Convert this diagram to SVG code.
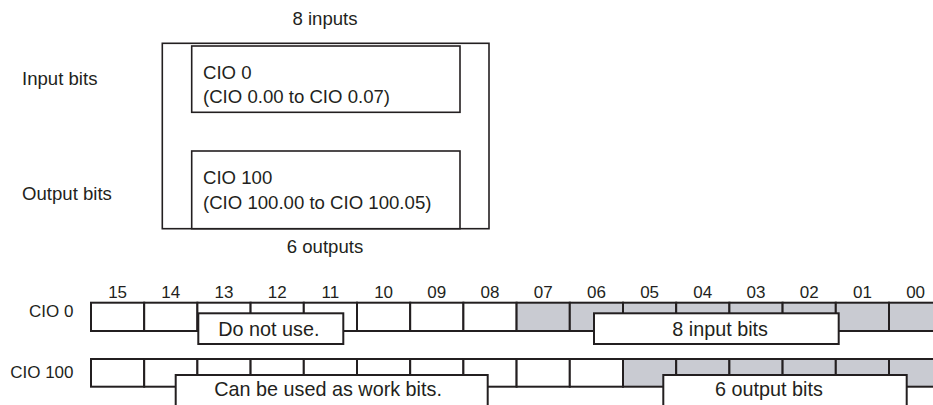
<svg xmlns="http://www.w3.org/2000/svg" width="933" height="405" viewBox="0 0 933 405">
<style>
text{font-family:"Liberation Sans",Arial,sans-serif;fill:#231f20}
.t{font-size:18.6px}
.n{font-size:17px}
.l{font-size:19.8px}
.box{fill:#fff;stroke:#231f20;stroke-width:1.6}
.cw{fill:#fff;stroke:#231f20;stroke-width:2}
.cg{fill:#c9cbd2;stroke:#231f20;stroke-width:2}
</style>
<rect width="933" height="405" fill="#fff"/>
<g id="top-labels">
<text class="t" x="325" y="25" text-anchor="middle">8 inputs</text>
<text class="t" x="22" y="85">Input bits</text>
<text class="t" x="22" y="200">Output bits</text>
<text class="t" x="325" y="253" text-anchor="middle">6 outputs</text>
</g>
<g id="unit">
<rect class="box" x="162.3" y="43.3" width="326.7" height="185.4"/>
</g>
<g id="cio0-area">
<rect class="box" x="191.7" y="46" width="268.3" height="66.3"/>
<text class="t" x="203" y="79">CIO 0</text>
<text class="t" x="203" y="103">(CIO 0.00 to CIO 0.07)</text>
</g>
<g id="cio100-area">
<rect class="box" x="191.7" y="151" width="268.3" height="77.7"/>
<text class="t" x="203" y="184">CIO 100</text>
<text class="t" x="203" y="209">(CIO 100.00 to CIO 100.05)</text>
</g>
<g id="bit-numbers" class="n">
<text class="n" x="117.6" y="297.5" text-anchor="middle">15</text>
<text class="n" x="170.8" y="297.5" text-anchor="middle">14</text>
<text class="n" x="224" y="297.5" text-anchor="middle">13</text>
<text class="n" x="277.2" y="297.5" text-anchor="middle">12</text>
<text class="n" x="330.4" y="297.5" text-anchor="middle">11</text>
<text class="n" x="383.6" y="297.5" text-anchor="middle">10</text>
<text class="n" x="436.8" y="297.5" text-anchor="middle">09</text>
<text class="n" x="490" y="297.5" text-anchor="middle">08</text>
<text class="n" x="543.2" y="297.5" text-anchor="middle">07</text>
<text class="n" x="596.4" y="297.5" text-anchor="middle">06</text>
<text class="n" x="649.6" y="297.5" text-anchor="middle">05</text>
<text class="n" x="702.8" y="297.5" text-anchor="middle">04</text>
<text class="n" x="756" y="297.5" text-anchor="middle">03</text>
<text class="n" x="809.2" y="297.5" text-anchor="middle">02</text>
<text class="n" x="862.4" y="297.5" text-anchor="middle">01</text>
<text class="n" x="915.6" y="297.5" text-anchor="middle">00</text>
</g>
<g id="word-cio0">
<text class="n" x="73.5" y="317" text-anchor="end">CIO 0</text>
<rect class="cw" x="91" y="302.7" width="53.2" height="28.3"/>
<rect class="cw" x="144.2" y="302.7" width="53.2" height="28.3"/>
<rect class="cw" x="197.4" y="302.7" width="53.2" height="28.3"/>
<rect class="cw" x="250.6" y="302.7" width="53.2" height="28.3"/>
<rect class="cw" x="303.8" y="302.7" width="53.2" height="28.3"/>
<rect class="cw" x="357" y="302.7" width="53.2" height="28.3"/>
<rect class="cw" x="410.2" y="302.7" width="53.2" height="28.3"/>
<rect class="cw" x="463.4" y="302.7" width="53.2" height="28.3"/>
<rect class="cg" x="516.6" y="302.7" width="53.2" height="28.3"/>
<rect class="cg" x="569.8" y="302.7" width="53.2" height="28.3"/>
<rect class="cg" x="623" y="302.7" width="53.2" height="28.3"/>
<rect class="cg" x="676.2" y="302.7" width="53.2" height="28.3"/>
<rect class="cg" x="729.4" y="302.7" width="53.2" height="28.3"/>
<rect class="cg" x="782.6" y="302.7" width="53.2" height="28.3"/>
<rect class="cg" x="835.8" y="302.7" width="53.2" height="28.3"/>
<rect class="cg" x="889" y="302.7" width="53.2" height="28.3"/>
</g>
<g id="word-cio100">
<text class="n" x="73.5" y="378" text-anchor="end">CIO 100</text>
<rect class="cw" x="91" y="359" width="53.2" height="27.7"/>
<rect class="cw" x="144.2" y="359" width="53.2" height="27.7"/>
<rect class="cw" x="197.4" y="359" width="53.2" height="27.7"/>
<rect class="cw" x="250.6" y="359" width="53.2" height="27.7"/>
<rect class="cw" x="303.8" y="359" width="53.2" height="27.7"/>
<rect class="cw" x="357" y="359" width="53.2" height="27.7"/>
<rect class="cw" x="410.2" y="359" width="53.2" height="27.7"/>
<rect class="cw" x="463.4" y="359" width="53.2" height="27.7"/>
<rect class="cw" x="516.6" y="359" width="53.2" height="27.7"/>
<rect class="cw" x="569.8" y="359" width="53.2" height="27.7"/>
<rect class="cg" x="623" y="359" width="53.2" height="27.7"/>
<rect class="cg" x="676.2" y="359" width="53.2" height="27.7"/>
<rect class="cg" x="729.4" y="359" width="53.2" height="27.7"/>
<rect class="cg" x="782.6" y="359" width="53.2" height="27.7"/>
<rect class="cg" x="835.8" y="359" width="53.2" height="27.7"/>
<rect class="cg" x="889" y="359" width="53.2" height="27.7"/>
</g>
<g id="label-do-not-use">
<rect class="cw" x="198.3" y="313.3" width="145" height="30.7"/>
<text class="l" x="218.3" y="336">Do not use.</text>
</g>
<g id="label-8-input-bits">
<rect class="cw" x="594" y="313.3" width="244.7" height="30.7"/>
<text class="l" x="672.3" y="336">8 input bits</text>
</g>
<g id="label-work-bits">
<rect class="cw" x="175.7" y="375" width="312" height="40"/>
<text class="l" x="214.3" y="395.5">Can be used as work bits.</text>
</g>
<g id="label-6-output-bits">
<rect class="cw" x="663.3" y="375" width="243.4" height="40"/>
<text class="l" x="715" y="395.5">6 output bits</text>
</g>
<g id="connectors"></g>
</svg>
